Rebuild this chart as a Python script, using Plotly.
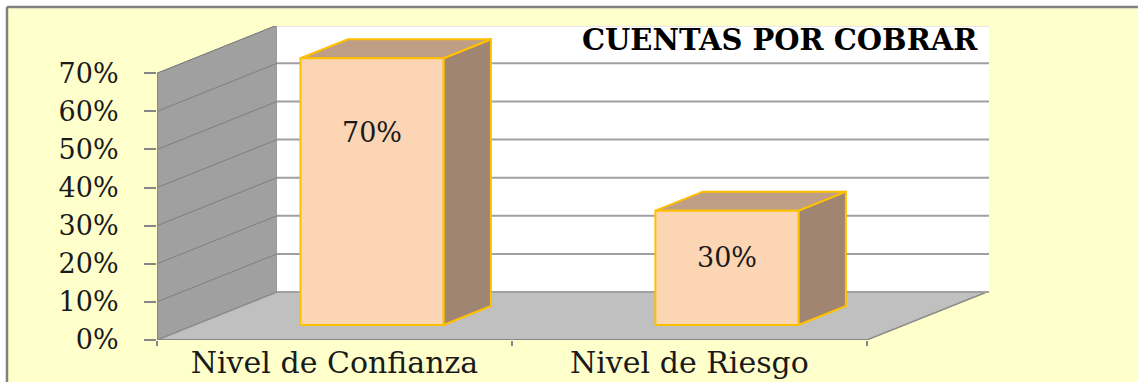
import plotly.graph_objects as go

# ---- data ----
categories = ["Nivel de Confianza", "Nivel de Riesgo"]
values = [70, 30]                      # percent
value_labels = ["70%", "30%"]
y_ticks = [0, 10, 20, 30, 40, 50, 60, 70]
y_tick_labels = ["0%", "10%", "20%", "30%", "40%", "50%", "60%", "70%"]
title_text = "CUENTAS POR COBRAR"

# ---- pseudo-3D geometry (in axis units) ----
AXIS_MAX = 70
DEPTH_X, DEPTH_Y = 0.338, 12.6         # full depth of the floor
BAR_FRONT, BAR_BACK = 0.3125, 0.708    # bar depth as a fraction of the floor depth
BAR_W = 0.403
LABEL_FRAC = [0.72, 0.59]              # label height inside each bar face

X_MIN, X_MAX = -0.5, 1.844
Y_MAX = 82.4

FRONT = "#FCD5B4"
TOP = "#BE9F86"
SIDE = "#A08672"
EDGE = "#FFC000"
CHART_BG = "#FFFFCC"
SERIF = "DejaVu Serif"

fig = go.Figure()
shapes = []

# chart area background (paper units, inside the outer frame)
shapes.append(dict(type="rect", layer="below", xref="paper", yref="paper",
                   x0=-0.1803, x1=1.179, y0=-0.2, y1=1.0605,
                   fillcolor=CHART_BG, line=dict(width=0)))
# side wall
shapes.append(dict(type="path", layer="below", xref="x", yref="y",
                   path=f"M {X_MIN},0 L {X_MIN},{AXIS_MAX} L {X_MIN+DEPTH_X},{AXIS_MAX+DEPTH_Y} "
                        f"L {X_MIN+DEPTH_X},{DEPTH_Y} Z",
                   fillcolor="#A0A0A0", line=dict(color="#8C8C8C", width=1)))
# back wall
shapes.append(dict(type="rect", layer="below", xref="x", yref="y",
                   x0=X_MIN + DEPTH_X, x1=X_MAX, y0=DEPTH_Y, y1=AXIS_MAX + DEPTH_Y,
                   fillcolor="white", line=dict(width=0)))
# floor
shapes.append(dict(type="path", layer="below", xref="x", yref="y",
                   path=f"M {X_MIN},0 L 1.5,0 L {1.5+DEPTH_X},{DEPTH_Y} L {X_MIN+DEPTH_X},{DEPTH_Y} Z",
                   fillcolor="#C0C0C0", line=dict(color="#8C8C8C", width=1.5)))
# gridlines on back wall and side wall
for v in y_ticks:
    shapes.append(dict(type="line", layer="below", xref="x", yref="y",
                       x0=X_MIN + DEPTH_X, x1=X_MAX, y0=v + DEPTH_Y, y1=v + DEPTH_Y,
                       line=dict(color="#A0A0A0", width=2)))
    if v > 0:
        shapes.append(dict(type="line", layer="below", xref="x", yref="y",
                           x0=X_MIN, x1=X_MIN + DEPTH_X, y0=v, y1=v + DEPTH_Y,
                           line=dict(color="#7F7F7F", width=1)))
# front axis lines
shapes.append(dict(type="line", layer="below", xref="x", yref="y",
                   x0=X_MIN, x1=X_MIN, y0=0, y1=AXIS_MAX, line=dict(color="#868686", width=2)))
shapes.append(dict(type="line", layer="below", xref="x", yref="y",
                   x0=X_MIN, x1=1.5, y0=0, y1=0, line=dict(color="#868686", width=2)))

# outer frame: gray rule on top and left
shapes.append(dict(type="line", layer="below", xref="paper", yref="paper",
                   x0=-0.1803, x1=1.179, y0=1.0605, y1=1.0605, line=dict(color="#808080", width=2.5)))
shapes.append(dict(type="line", layer="below", xref="paper", yref="paper",
                   x0=-0.1803, x1=-0.1803, y0=-0.2, y1=1.0605, line=dict(color="#808080", width=2.5)))

# bars: front, top and side faces
dx0, dy0 = BAR_FRONT * DEPTH_X, BAR_FRONT * DEPTH_Y
ddx, ddy = (BAR_BACK - BAR_FRONT) * DEPTH_X, (BAR_BACK - BAR_FRONT) * DEPTH_Y
annotations = []
for i, (cat, v, lab) in enumerate(zip(categories, values, value_labels)):
    xl = i + dx0 - BAR_W / 2
    xr = i + dx0 + BAR_W / 2
    yb = dy0
    yt = dy0 + v
    # side face
    fig.add_trace(go.Scatter(x=[xr, xr + ddx, xr + ddx, xr, xr],
                             y=[yb, yb + ddy, yt + ddy, yt, yb],
                             fill="toself", fillcolor=SIDE, mode="lines",
                             line=dict(color=EDGE, width=2), hoverinfo="skip", showlegend=False))
    # top face
    fig.add_trace(go.Scatter(x=[xl, xr, xr + ddx, xl + ddx, xl],
                             y=[yt, yt, yt + ddy, yt + ddy, yt],
                             fill="toself", fillcolor=TOP, mode="lines",
                             line=dict(color=EDGE, width=2), hoverinfo="skip", showlegend=False))
    # front face
    fig.add_trace(go.Scatter(x=[xl, xr, xr, xl, xl],
                             y=[yb, yb, yt, yt, yb],
                             fill="toself", fillcolor=FRONT, mode="lines",
                             line=dict(color=EDGE, width=2), hoverinfo="skip", showlegend=False))
    annotations.append(dict(x=i + dx0, y=yb + v * LABEL_FRAC[i], xref="x", yref="y",
                            text=lab, showarrow=False,
                            font=dict(family=SERIF, size=27, color="#1A1A1A")))

annotations.append(dict(x=0.989, y=0.955, xref="paper", yref="paper", xanchor="right",
                        yanchor="middle", text=f"<b>{title_text}</b>", showarrow=False,
                        font=dict(family=SERIF, size=29, color="black")))

fig.update_layout(
    width=1139, height=382,
    margin=dict(l=157, r=150, t=26, b=42),
    paper_bgcolor="white",
    plot_bgcolor="rgba(0,0,0,0)",
    shapes=shapes,
    annotations=annotations,
    showlegend=False,
    xaxis=dict(range=[X_MIN, X_MAX], showgrid=False, zeroline=False, showline=False,
               automargin=False,
               tickvals=[0, 1], ticktext=categories, ticks="",
               tickfont=dict(family=SERIF, size=30, color="#1A1A1A"),
               ticklabelstandoff=2,
               minor=dict(tickvals=[-0.5, 0.5, 1.5], ticks="outside", ticklen=5,
                          tickcolor="#868686", tickwidth=2, showgrid=False)),
    yaxis=dict(range=[0, Y_MAX], showgrid=False, zeroline=False, showline=False,
               automargin=False,
               tickvals=y_ticks, ticktext=y_tick_labels, ticks="outside", ticklen=12,
               tickcolor="#868686", tickwidth=2,
               tickfont=dict(family=SERIF, size=27, color="#1A1A1A"),
               ticklabelstandoff=20),
)

fig.write_html("out.html")
